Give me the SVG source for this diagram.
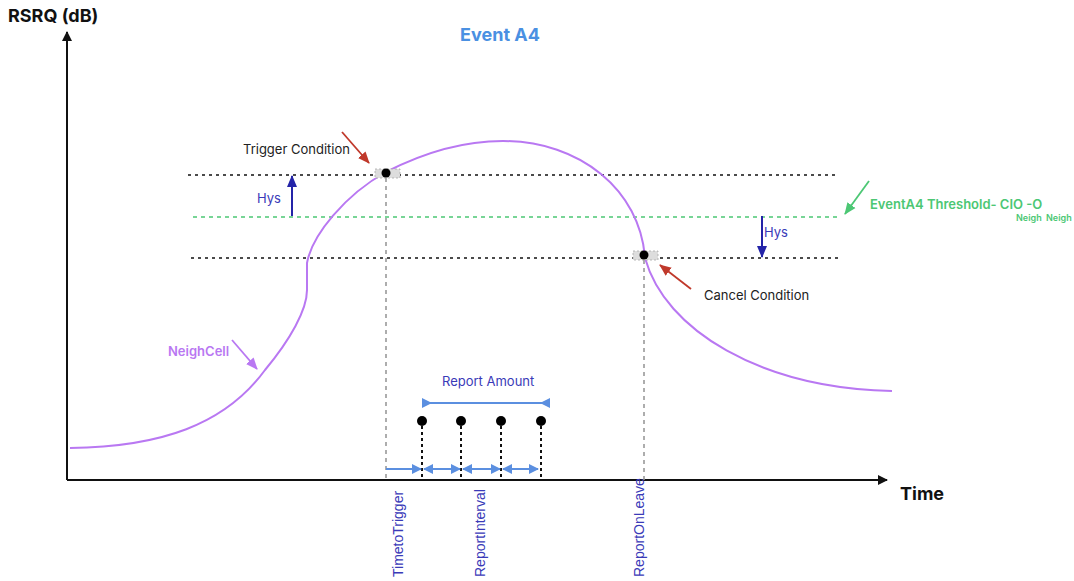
<svg xmlns="http://www.w3.org/2000/svg" width="1074" height="581" viewBox="0 0 1074 581">
  <style>
    .lbl { font-family: Inter, "Liberation Sans", sans-serif; }
    .axis { font-family: Inter, "Liberation Sans", sans-serif; font-weight: 700; font-size: 18px; fill: #111; }
    .dash-blk { stroke: #111; stroke-width: 1.6; stroke-dasharray: 3 4; fill: none; }
    .dash-grn { stroke: #4cc774; stroke-width: 1.6; stroke-dasharray: 4 4; fill: none; }
    .dash-gray { stroke: #999; stroke-width: 1.6; stroke-dasharray: 4 4; fill: none; }
    .drop { stroke: #111; stroke-width: 2; stroke-dasharray: 3 3; fill: none; }
    .rot { font-family: "Liberation Sans", Arial, sans-serif; font-size: 14px; fill: #3a3ab8; }
    .blue-arr { stroke: #5b8fe0; stroke-width: 1.8; fill: none; }
  </style>
  <defs>
    <marker id="ax" markerWidth="10" markerHeight="10" refX="9" refY="5" orient="auto" markerUnits="userSpaceOnUse">
      <path d="M0,0 L10,5 L0,10 Z" fill="#111"/>
    </marker>
    <marker id="red" markerWidth="12" markerHeight="12" refX="11" refY="6" orient="auto" markerUnits="userSpaceOnUse">
      <path d="M0,1 L12,6 L0,11 Z" fill="#c0392b"/>
    </marker>
    <marker id="navy" markerWidth="12" markerHeight="12" refX="11" refY="6" orient="auto" markerUnits="userSpaceOnUse">
      <path d="M0,1 L12,6 L0,11 Z" fill="#2424a8"/>
    </marker>
    <marker id="grn" markerWidth="12" markerHeight="12" refX="11" refY="6" orient="auto" markerUnits="userSpaceOnUse">
      <path d="M0,1 L12,6 L0,11 Z" fill="#4cc774"/>
    </marker>
    <marker id="pur" markerWidth="12" markerHeight="12" refX="11" refY="6" orient="auto" markerUnits="userSpaceOnUse">
      <path d="M0,1 L12,6 L0,11 Z" fill="#b978f2"/>
    </marker>
    <marker id="blu" markerWidth="10" markerHeight="10" refX="9" refY="5" orient="auto-start-reverse" markerUnits="userSpaceOnUse">
      <path d="M0,0 L10,5 L0,10 Z" fill="#5b8fe0"/>
    </marker>
  </defs>

  <!-- axes -->
  <g id="axes">
    <line x1="67" y1="480" x2="67" y2="32" stroke="#111" stroke-width="2" marker-end="url(#ax)"/>
    <line x1="67" y1="480" x2="887" y2="480" stroke="#111" stroke-width="2" marker-end="url(#ax)"/>
    <text class="axis" x="8" y="22">RSRQ (dB)</text>
    <text class="axis" x="900" y="500">Time</text>
  </g>

  <g id="title">
    <text class="lbl" x="500" y="41" text-anchor="middle" font-size="18" font-weight="700" fill="#4a90e2">Event A4</text>
  </g>

  <!-- levels -->
  <g id="levels">
    <line class="dash-blk" x1="188" y1="175" x2="836" y2="175"/>
    <line class="dash-grn" x1="193" y1="217" x2="838" y2="217"/>
    <line class="dash-blk" x1="191" y1="258" x2="840" y2="258"/>
  </g>

  <!-- neighbour cell curve -->
  <g id="neighcell">
    <path d="M70,448 C160,447 225,425 265,370 C290,340 307,310 307,290 L307,263 C312,235 345,195 386,172 C425,152 465,141 503,141 C580,141 640,190 645,258 C665,330 760,388 892,391" fill="none" stroke="#b978f2" stroke-width="2"/>
    <text class="lbl" x="168" y="356" font-size="13" font-weight="600" fill="#b978f2">NeighCell</text>
  </g>

  <g id="threshold-label">
    <text class="lbl" x="870" y="209" font-size="13" font-weight="600" fill="#4cc774">EventA4 Threshold- CIO -O</text>
    <text class="lbl" x="1016" y="221" font-size="9" font-weight="600" fill="#4cc774">Neigh</text>
    <text class="lbl" x="1046" y="221" font-size="9" font-weight="600" fill="#4cc774">Neigh</text>
  </g>

  <g id="trigger">
    <rect x="375" y="169" width="25" height="9" fill="#ddd" stroke="#aaa" stroke-width="0.8" stroke-dasharray="2 2"/>
    <circle cx="386" cy="173" r="4.5" fill="#000"/>
    <text class="lbl" x="243" y="154" font-size="13" fill="#222">Trigger Condition</text>
  </g>

  <g id="cancel">
    <rect x="633" y="251" width="25" height="9" fill="#ddd" stroke="#aaa" stroke-width="0.8" stroke-dasharray="2 2"/>
    <circle cx="644" cy="255" r="4.5" fill="#000"/>
    <text class="lbl" x="704" y="300" font-size="13" fill="#222">Cancel Condition</text>
  </g>

  <g id="hys-up">
    <text class="lbl" x="257" y="203" font-size="13" fill="#3a3ab8">Hys</text>
  </g>
  <g id="hys-down">
    <text class="lbl" x="764" y="237" font-size="13" fill="#3a3ab8">Hys</text>
  </g>

  <g id="report-amount">
    <text class="lbl" x="442" y="386" font-size="13" fill="#3a3ab8">Report Amount</text>
    <line x1="422" y1="403" x2="550" y2="403" stroke="#5b8fe0" stroke-width="1.8"/>
    <path d="M422,398 L432,403 L422,408 Z" fill="#5b8fe0"/>
    <path d="M550,398 L540,403 L550,408 Z" fill="#5b8fe0"/>
  </g>

  <g id="reports">
    <circle cx="422" cy="421" r="5" fill="#000"/>
    <circle cx="461" cy="421" r="5" fill="#000"/>
    <circle cx="501" cy="421" r="5" fill="#000"/>
    <circle cx="541" cy="421" r="5" fill="#000"/>
  </g>

  <g id="time-labels">
    <text class="rot" transform="translate(403,577) rotate(-90)">TimetoTrigger</text>
    <text class="rot" transform="translate(485,577) rotate(-90)">ReportInterval</text>
    <text class="rot" transform="translate(644,577) rotate(-90)">ReportOnLeave</text>
  </g>

  <!-- connectors -->
  <g id="connectors">
    <line class="dash-gray" x1="386" y1="178" x2="386" y2="480"/>
    <line class="dash-gray" x1="644" y1="260" x2="644" y2="480"/>
    <line class="drop" x1="422" y1="426" x2="422" y2="480"/>
    <line class="drop" x1="461" y1="426" x2="461" y2="480"/>
    <line class="drop" x1="501" y1="426" x2="501" y2="480"/>
    <line class="drop" x1="541" y1="426" x2="541" y2="480"/>
    <line class="blue-arr" x1="386" y1="469" x2="421" y2="469" marker-end="url(#blu)"/>
    <line class="blue-arr" x1="424" y1="469" x2="460" y2="469" marker-start="url(#blu)" marker-end="url(#blu)"/>
    <line class="blue-arr" x1="463" y1="469" x2="500" y2="469" marker-start="url(#blu)" marker-end="url(#blu)"/>
    <line class="blue-arr" x1="503" y1="469" x2="538" y2="469" marker-start="url(#blu)" marker-end="url(#blu)"/>
    <line x1="342" y1="132" x2="369" y2="163" stroke="#c0392b" stroke-width="1.8" marker-end="url(#red)"/>
    <line x1="691" y1="289" x2="660" y2="265" stroke="#c0392b" stroke-width="1.8" marker-end="url(#red)"/>
    <line x1="292" y1="216" x2="292" y2="176" stroke="#2424a8" stroke-width="2" marker-end="url(#navy)"/>
    <line x1="762" y1="216" x2="762" y2="257" stroke="#2424a8" stroke-width="2" marker-end="url(#navy)"/>
    <line x1="869" y1="181" x2="845" y2="214" stroke="#4cc774" stroke-width="1.8" marker-end="url(#grn)"/>
    <line x1="232" y1="340" x2="257" y2="369" stroke="#b978f2" stroke-width="1.8" marker-end="url(#pur)"/>
  </g>
</svg>
